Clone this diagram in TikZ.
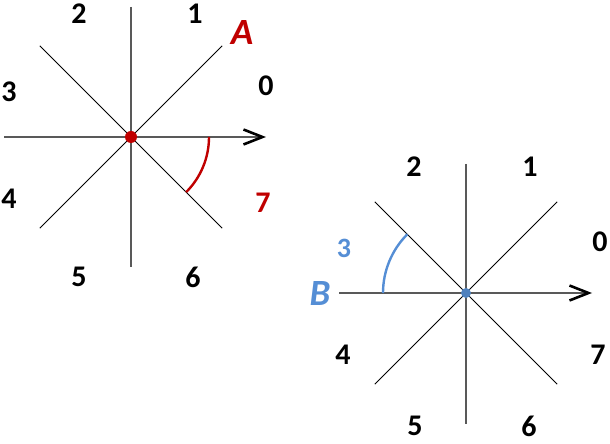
\documentclass[tikz,border=0pt]{standalone}
\usepackage{fontspec}
\setmainfont{Carlito}
\usetikzlibrary{arrows.meta,calc}
\definecolor{dirred}{RGB}{192,0,0}
\definecolor{dirblue}{RGB}{85,142,213}
\definecolor{dotblue}{RGB}{79,129,189}
\definecolor{axisgray}{RGB}{89,89,89}
\begin{document}
\begin{tikzpicture}[x=1pt, y=1pt,
    axis/.style={draw=axisgray, line width=1.4pt},
    diag/.style={draw=black, line width=0.9pt},
    xarrow/.style={axis, -{Straight Barb[length=19pt, width=15pt, line width=2.6pt, black]}},
    digit/.style={font=\fontsize{30}{30}\selectfont\bfseries, inner sep=0pt},
    smalldigit/.style={font=\fontsize{28}{28}\selectfont\bfseries, inner sep=0pt},
    pointname/.style={font=\fontsize{37}{37}\selectfont\bfseries\itshape, inner sep=0pt}]
    \useasboundingbox (0,0) rectangle (610,444);

    % point A
    \coordinate (cA) at (131,307);
    \coordinate (wA) at (4,307);
    \coordinate (eA) at (266,307);
    \coordinate (nA) at (131,437);
    \coordinate (sA) at (131,177);
    \draw[axis] (nA) -- (sA);
    \draw[xarrow] (wA) -- (eA);
    \foreach \d in {45,135} {
        \draw[diag] ($(cA)+(\d:129)$) -- ($(cA)+(\d+180:129)$);
    }
    \draw[dirred, line width=2.4pt] ([shift={(0:78)}]cA) arc (0:-45:78);
    \fill[dirred] (cA) circle (6);

    \node[digit] (a2) at (79,430) {2};
    \node[digit] (a1) at (195,430) {1};
    \node[pointname, dirred] (labA) at (242,411) {A};
    \node[digit] (a0) at (266,358) {0};
    \node[digit] (a3) at (9,352) {3};
    \node[digit] (a4) at (9,245) {4};
    \node[digit, dirred] (a7) at (263,241) {7};
    \node[digit] (a5) at (79,167) {5};
    \node[digit] (a6) at (193,167) {6};

    % point B
    \coordinate (cB) at (466,151);
    \coordinate (wB) at (339,151);
    \coordinate (eB) at (592,151);
    \coordinate (nB) at (466,280);
    \coordinate (sB) at (466,20);
    \draw[axis] (nB) -- (sB);
    \draw[xarrow] (wB) -- (eB);
    \foreach \d in {45,135} {
        \draw[diag] ($(cB)+(\d:129)$) -- ($(cB)+(\d+180:129)$);
    }
    \draw[dirblue, line width=2.4pt] ([shift={(180:83)}]cB) arc (180:135:83);
    \fill[dotblue] (cB) circle (5);

    \node[digit] (b2) at (414,277) {2};
    \node[digit] (b1) at (530,277) {1};
    \node[digit] (b0) at (600,202) {0};
    \node[smalldigit, dirblue] (b3) at (344,196) {3};
    \node[pointname, dirblue] (labB) at (320,150) {B};
    \node[digit] (b4) at (343,89) {4};
    \node[digit] (b7) at (598,89) {7};
    \node[digit] (b5) at (415,18) {5};
    \node[digit] (b6) at (529,18) {6};
\end{tikzpicture}
\end{document}
